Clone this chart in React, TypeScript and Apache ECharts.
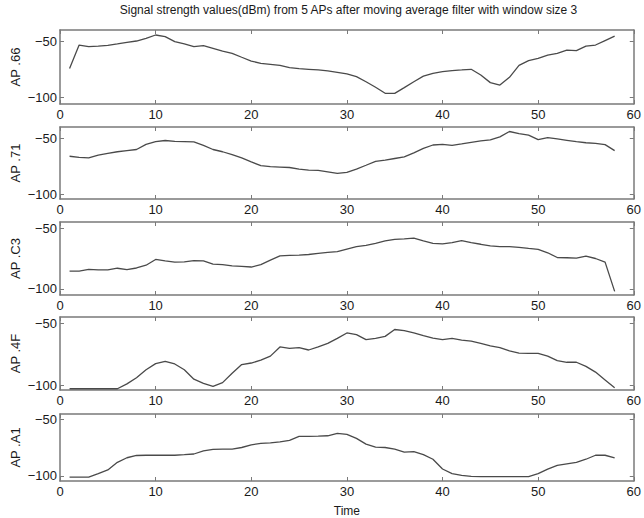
import React, { useEffect, useRef } from "react";
import * as echarts from "echarts";

const TITLE = "Signal strength values(dBm) from 5 APs after moving average filter with window size 3";
const X_NAME = "Time";
const AP_NAMES = ["AP .66", "AP .71", "AP .C3", "AP .4F", "AP .A1"];
const X_TICKS = [0, 10, 20, 30, 40, 50, 60];
const Y_TICKS = [-100, -50];
const TIME = [
  1, 2, 3, 4, 5, 6, 7, 8, 9, 10, 11, 12, 13, 14, 15, 16, 17, 18, 19, 20,
  21, 22, 23, 24, 25, 26, 27, 28, 29, 30, 31, 32, 33, 34, 35, 36, 37, 38, 39, 40,
  41, 42, 43, 44, 45, 46, 47, 48, 49, 50, 51, 52, 53, 54, 55, 56, 57, 58,
];

const AP66 = [
  -74, -53, -54.5, -54, -53.3, -52, -50.6, -49.4, -47, -44,
  -45.5, -50, -52, -54.5, -53.6, -56, -58.4, -60.5, -64, -67.4,
  -69.5, -70.4, -71.3, -73.4, -74.3, -74.8, -75.4, -76.3, -77.5, -79,
  -81.4, -86, -91, -96.4, -96.4, -91.3, -86, -81, -78.4, -77,
  -76, -75.4, -74.8, -80, -86.8, -89, -82, -71.3, -67, -65,
  -62, -60.5, -57.5, -58, -54, -53, -49, -45,
];
const AP71 = [
  -66, -67, -67.5, -65, -63.5, -62, -61, -60, -55.4, -53,
  -52, -52.7, -53, -53.3, -56.3, -60, -62, -64.5, -67.5, -71,
  -74.4, -75.3, -75.6, -76, -77.4, -78.3, -78.6, -79.8, -81.3, -80.4,
  -77.4, -74, -70.5, -69.5, -68, -66.6, -63, -59, -56, -55.4,
  -56.3, -55, -53.6, -52.4, -51.5, -48.8, -44, -45.8, -47.3, -51.2,
  -49.4, -50.6, -51.8, -53, -54, -54.5, -55.7, -61,
];
const APC3 = [
  -85.3, -85.3, -84, -84.4, -84.4, -83, -84.2, -82.8, -80.5, -75.8,
  -77, -78, -77.8, -76.7, -77, -79.7, -80, -81, -81.4, -82,
  -80, -76.4, -72.8, -72.5, -72.2, -71.7, -70.8, -70, -69.4, -67.2,
  -65.3, -64.2, -62.5, -60.6, -59.2, -58.9, -58.3, -60.6, -62.5, -63,
  -62, -60.3, -62, -63.3, -64.7, -65.3, -65.3, -65.8, -66.7, -67.5,
  -70.3, -74.2, -74.4, -74.7, -73, -75, -78, -102,
];
const AP4F = [
  -103, -103, -103, -103, -103, -103, -99, -94, -87.5, -82.5,
  -80.6, -82.8, -87.5, -95.2, -98.6, -101, -98, -90.3, -83.3, -82,
  -79.7, -76.4, -68.9, -70, -69.4, -71.4, -68.9, -66, -61.9, -57.5,
  -58.9, -63, -62, -60.3, -54.7, -55.6, -57.5, -59.7, -61.7, -63,
  -62, -63.3, -64.2, -66, -68, -69.4, -72.2, -73.9, -74.2, -74.2,
  -76.4, -80, -81.4, -81.4, -84.7, -89.4, -95.8, -102.2,
];
const APA1 = [
  -101, -101, -101, -98, -94.7, -88, -84, -82, -81.8, -81.8,
  -81.8, -81.8, -81.3, -80.7, -78, -76.7, -76.5, -76.5, -75, -72.7,
  -71.3, -71, -70, -68.7, -65.2, -65.2, -65, -64.7, -62.6, -63.4,
  -67, -72, -74.6, -75, -76.5, -79, -78.6, -81.3, -85.3, -93.9,
  -97.9, -99.5, -100.3, -100.5, -100.5, -100.5, -100.5, -100.5, -100.5, -98,
  -94, -90.6, -89.3, -88, -85.3, -81.8, -81.8, -84,
];
const SERIES_VALUES = [AP66, AP71, APC3, AP4F, APA1];
const Y_MIN = [-106, -104, -105, -104, -104.4];
const Y_MAX = [-39.5, -40, -45, -44.5, -45.6];

const PANEL_TOP = [30, 127, 222, 317, 414];
const PANEL_HEIGHT = [74, 72, 73, 73, 72];
const FONT = "Liberation Sans";
const BOX = "#7a7a7a";
const LINE = "#4a4a4a";
const TEXT = "#1a1a1a";

export default function App() {
  const ref = useRef<HTMLDivElement>(null);
  useEffect(() => {
    if (!ref.current) return;
    const chart = echarts.init(ref.current, undefined, { renderer: "svg" });
    const grid: any[] = [];
    const xAxis: any[] = [];
    const yAxis: any[] = [];
    const series: any[] = [];
    SERIES_VALUES.forEach((vals, i) => {
      grid.push({ left: 60, width: 577, top: PANEL_TOP[i], height: PANEL_HEIGHT[i] });
      const axisLine = { show: true, onZero: false, lineStyle: { color: BOX, width: 1.5 } };
      const xBase = {
        gridIndex: i, type: "value", min: X_TICKS[0], max: X_TICKS[X_TICKS.length - 1], interval: 10,
        axisLine, splitLine: { show: false },
        axisTick: { show: true, inside: true, length: 4, lineStyle: { color: BOX, width: 1 } },
      };
      xAxis.push({
        ...xBase, position: "bottom",
        axisLabel: { show: true, color: TEXT, fontSize: 13, fontFamily: FONT, margin: 4 },
        name: i === 4 ? X_NAME : "", nameLocation: "middle", nameGap: 24, nameMoveOverlap: false,
        nameTextStyle: { color: TEXT, fontSize: 12, fontFamily: FONT },
      });
      xAxis.push({ ...xBase, position: "top", axisLabel: { show: false } });
      const yBase = {
        gridIndex: i, type: "value", min: Y_MIN[i], max: Y_MAX[i],
        axisLine, splitLine: { show: false },
        axisTick: { show: true, inside: true, length: 4, customValues: Y_TICKS, lineStyle: { color: BOX, width: 1 } },
      };
      yAxis.push({
        ...yBase, position: "left",
        axisLabel: {
          show: true, customValues: Y_TICKS, color: TEXT, fontSize: 13, fontFamily: FONT, margin: 3,
          formatter: (v: number) => String(v).replace("-", "\u2212"),
        },
        name: AP_NAMES[i], nameLocation: "middle", nameGap: 38, nameRotate: 90, nameMoveOverlap: false,
        nameTextStyle: { color: TEXT, fontSize: 13, fontFamily: FONT },
      });
      yAxis.push({ ...yBase, position: "right", axisLabel: { show: false } });
      series.push({
        type: "line", xAxisIndex: 2 * i, yAxisIndex: 2 * i,
        data: TIME.map((t, k) => [t, vals[k]]),
        showSymbol: false, symbol: "none", silent: true,
        lineStyle: { color: LINE, width: 1.3 },
      });
    });
    chart.setOption({
      animation: false,
      backgroundColor: "#ffffff",
      graphic: [{
        type: "text", x: 348.5, y: 10,
        style: { text: TITLE, fill: TEXT, font: `12px "${FONT}"`, textAlign: "center", textVerticalAlign: "middle" },
      }],
      grid, xAxis, yAxis, series,
    });
    return () => chart.dispose();
  }, []);
  return <div ref={ref} style={{ position: "absolute", left: 0, top: 0, width: 644, height: 518 }} />;
}
